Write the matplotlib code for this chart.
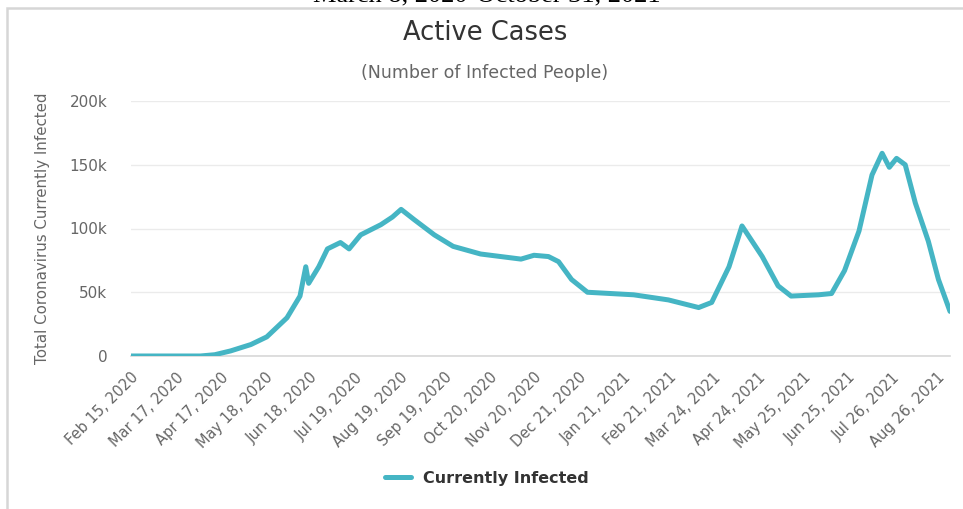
import matplotlib
matplotlib.use("Agg")
import matplotlib.pyplot as plt
import matplotlib.patches as patches
import pandas as pd

# values
dates = [
    "2020-02-15", "2020-04-03", "2020-04-13", "2020-04-24", "2020-05-08", "2020-05-19",
    "2020-06-02", "2020-06-11", "2020-06-15", "2020-06-17", "2020-06-24", "2020-06-30",
    "2020-07-09", "2020-07-15", "2020-07-23", "2020-08-06", "2020-08-14", "2020-08-20",
    "2020-08-29", "2020-09-12", "2020-09-25", "2020-10-14", "2020-11-11", "2020-11-20",
    "2020-11-30", "2020-12-07", "2020-12-16", "2020-12-27", "2021-01-28", "2021-02-21",
    "2021-03-14", "2021-03-23", "2021-04-04", "2021-04-13", "2021-04-27", "2021-05-08",
    "2021-05-17", "2021-06-05", "2021-06-14", "2021-06-23", "2021-07-03", "2021-07-12",
    "2021-07-19", "2021-07-24", "2021-07-29", "2021-08-04", "2021-08-11", "2021-08-20",
    "2021-08-27", "2021-09-04",
]
infected = [
    0, 0, 1000, 4000, 9000, 15000,
    30000, 47000, 70000, 57000, 70000, 84000,
    89000, 84000, 95000, 103000, 109000, 115000,
    107000, 95000, 86000, 80000, 76000, 79000,
    78000, 74000, 60000, 50000, 48000, 44000,
    38000, 42000, 70000, 102000, 78000, 55000,
    47000, 48000, 49000, 67000, 98000, 142000,
    159000, 148000, 155000, 150000, 120000, 90000,
    60000, 35000,
]
tick_dates = [
    "2020-02-15", "2020-03-17", "2020-04-17", "2020-05-18", "2020-06-18", "2020-07-19",
    "2020-08-19", "2020-09-19", "2020-10-20", "2020-11-20", "2020-12-21", "2021-01-21",
    "2021-02-21", "2021-03-24", "2021-04-24", "2021-05-25", "2021-06-25", "2021-07-26",
    "2021-08-26",
]
y_ticks = [0, 50000, 100000, 150000, 200000]
y_labels = ["0", "50k", "100k", "150k", "200k"]

x = pd.to_datetime(dates)
ticks = pd.to_datetime(tick_dates)
tick_labels = [d.strftime("%b %d, %Y").replace(" 0", " ") for d in ticks]

fig = plt.figure(figsize=(9.63, 5.09), dpi=100)
ax = fig.add_axes([131 / 963, 1 - 356 / 509, (950 - 131) / 963, (356 - 101) / 509])

ax.plot(x, infected, color="#45b5c4", lw=3.6, solid_joinstyle="round",
        solid_capstyle="round", label="Currently Infected", zorder=3)

ax.set_xlim(x[0], x[-1])
ax.set_ylim(0, 200000)
ax.set_yticks(y_ticks)
ax.set_yticklabels(y_labels)
ax.set_xticks(ticks)
ax.set_xticklabels(tick_labels, rotation=45, ha="right", va="top",
                   rotation_mode="anchor")
ax.tick_params(axis="both", length=0, labelcolor="#666666")
ax.tick_params(axis="y", pad=17, labelsize=11)
ax.tick_params(axis="x", pad=10, labelsize=10.5)

ax.grid(axis="y", color="#ebebeb", lw=1)
ax.set_axisbelow(True)
for side in ["top", "right", "left"]:
    ax.spines[side].set_visible(False)
ax.spines["bottom"].set_color("#d8d8d8")
ax.spines["bottom"].set_linewidth(1.2)

ax.set_ylabel("Total Coronavirus Currently Infected", color="#666666", fontsize=10.8)
ax.yaxis.set_label_coords(-81 / 819, 0.5)

fig.text(485 / 963, 1 - 33 / 509, "Active Cases", ha="center", va="center",
         fontsize=18.5, color="#333333")
fig.text(485 / 963, 1 - 73 / 509, "(Number of Infected People)", ha="center",
         va="center", fontsize=12.5, color="#666666")
# caption above the frame, cut off by the top edge as in the reference
fig.text(487 / 963, 1 - 1 / 509, "March 8, 2020-October 31, 2021", ha="center",
         va="baseline", fontsize=19, family="Liberation Serif", color="black")

frame = patches.Rectangle((7 / 963, -0.1), 1.2, 1.1 - 8 / 509, transform=fig.transFigure,
                          fill=False, edgecolor="#d6d6d6", lw=1.8)
fig.patches.append(frame)

leg = fig.legend(loc="center", bbox_to_anchor=(487 / 963, 1 - 478 / 509), frameon=False,
                 handlelength=1.6, prop={"weight": "bold", "size": 11.5})
for t in leg.get_texts():
    t.set_color("#333333")

fig.savefig("out.png", dpi=100)
